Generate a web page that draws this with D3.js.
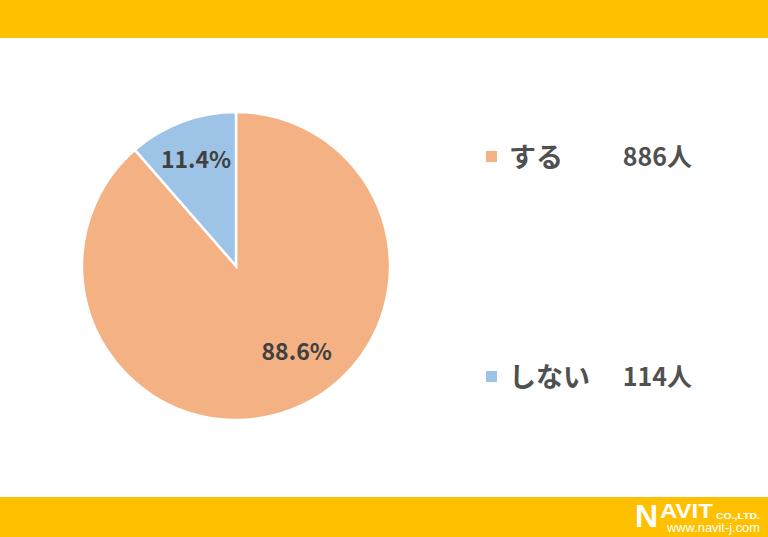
<!DOCTYPE html>
<html><head><meta charset="utf-8">
<script src="https://cdn.jsdelivr.net/npm/d3@7"></script>
<style>body{margin:0;background:#fff}svg{display:block}</style>
</head><body>
<svg id="c" width="768" height="537"></svg>
<script>
const categories = ["する", "しない"];
const counts = [886, 114];
const percents = ["88.6%", "11.4%"];
const colors = ["#F4B183", "#9DC3E6"];

const svg = d3.select("#c");
svg.append("rect").attr("x",0).attr("y",0).attr("width",768).attr("height",38).attr("fill","#FFC000");
svg.append("rect").attr("x",0).attr("y",497).attr("width",768).attr("height",40).attr("fill","#FFC000");

const font = "'Noto Sans CJK JP','Noto Sans',sans-serif";
const cx = 236, cy = 266, r = 154;
const pie = d3.pie().sort(null);
const arcs = pie(counts);
const arc = d3.arc().innerRadius(0).outerRadius(r);
const g = svg.append("g").attr("transform",`translate(${cx},${cy})`);
g.selectAll("path").data(arcs).enter().append("path")
  .attr("d",arc).attr("fill",(d,i)=>colors[i]).attr("stroke","#fff").attr("stroke-width",2.5);

// label placement (Excel "best fit" style): radius fraction and angular shift per slice
const labelRadius = [0.68, 0.74];
const labelShift = [0.26, 0];
g.selectAll("text").data(arcs).enter().append("text")
  .attr("transform",(d,i)=>{
    const a = (d.startAngle+d.endAngle)/2 - labelShift[i];
    const rr = r*labelRadius[i];
    return `translate(${rr*Math.sin(a)},${-rr*Math.cos(a)})`;})
  .attr("text-anchor","middle").attr("dy","0.36em")
  .attr("font-family",font).attr("font-weight","bold").attr("font-size",23).attr("fill","#404040")
  .text((d,i)=>percents[i]);

const legY = [157, 377];
categories.forEach((c,i)=>{
  svg.append("rect").attr("x",486).attr("y",legY[i]-6).attr("width",11).attr("height",11).attr("fill",colors[i]);
  svg.append("text").attr("x",509).attr("y",legY[i]).attr("dy","0.36em")
    .attr("font-family",font).attr("font-weight","bold").attr("font-size",27).attr("fill","#505050").text(c);
  svg.append("text").attr("x",692).attr("y",legY[i]).attr("dy","0.36em").attr("text-anchor","end")
    .attr("font-family",font).attr("font-weight","bold").attr("font-size",25).attr("fill","#505050").text(counts[i]+"人");
});

// logo
const lf = "'Liberation Sans',sans-serif";
svg.append("text").attr("x",635).attr("y",527).attr("font-family",lf).attr("font-weight","bold")
  .attr("font-size",32).attr("fill","#fff").text("N");
svg.append("text").attr("x",660).attr("y",518).attr("font-family",lf).attr("font-weight","bold")
  .attr("font-size",20).attr("fill","#fff").attr("textLength",53).attr("lengthAdjust","spacingAndGlyphs").text("AVIT");
svg.append("text").attr("x",716).attr("y",519).attr("font-family",lf).attr("font-weight","bold")
  .attr("font-size",9).attr("fill","#fff").attr("textLength",44).attr("lengthAdjust","spacingAndGlyphs").text("CO.,LTD.");
svg.append("text").attr("x",667).attr("y",531.5).attr("font-family",lf)
  .attr("font-size",12).attr("fill","#fff").attr("textLength",93).attr("lengthAdjust","spacingAndGlyphs").text("www.navit-j.com");
</script>
</body></html>
